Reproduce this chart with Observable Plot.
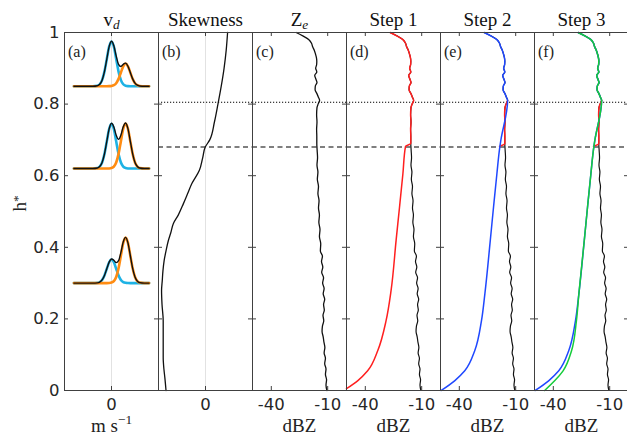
<!DOCTYPE html>
<html><head><meta charset="utf-8">
<script src="https://cdn.jsdelivr.net/npm/d3@7"></script>
<script src="https://cdn.jsdelivr.net/npm/@observablehq/plot@0.6"></script>
<style>
html,body{margin:0;padding:0;background:#fff;overflow:hidden}
#chart{position:relative;width:627px;height:435px;overflow:hidden;background:#fff}
</style></head><body><div id="chart"></div>
<script>
// ---------------- data ----------------
const panelTitles  = ["v_d", "Skewness", "Z_e", "Step 1", "Step 2", "Step 3"];
const panelLetters = ["(a)", "(b)", "(c)", "(d)", "(e)", "(f)"];
const xUnits       = ["m s^-1", "", "dBZ", "dBZ", "dBZ", "dBZ"];
const hTicks    = [0, 0.2, 0.4, 0.6, 0.8, 1];
const vdTicks   = [0];
const skewTicks = [0];
const dbzTicks  = [-40, -10];
const meltTop = 0.805;      // dotted line
const meltBottom = 0.68;    // dashed line

// (a) Doppler spectra: two modes at three heights
const vdSpeed   = [-4, -2, -1.5, -1.25, -1, -0.75, -0.5, -0.25, 0, 0.25, 0.5, 0.75, 1, 1.25, 1.5, 1.75, 2, 2.25, 2.5, 2.75, 3, 3.5, 4];
const slowShape = [0, 0, 0.011, 0.044, 0.135, 0.325, 0.607, 0.883, 1, 0.883, 0.607, 0.325, 0.135, 0.044, 0.011, 0.002, 0, 0, 0, 0, 0, 0, 0];
const fastShape = [0, 0, 0, 0, 0, 0, 0, 0.002, 0.011, 0.044, 0.135, 0.325, 0.607, 0.883, 1, 0.883, 0.607, 0.325, 0.135, 0.044, 0.011, 0, 0];
const vdBase  = [0.85, 0.62, 0.30];
const ampSlow = [0.125, 0.125, 0.066];
const ampFast = [0.063, 0.126, 0.127];

// (b) skewness profile
const skewH = [1.0, 0.95, 0.90, 0.85, 0.80, 0.75, 0.70, 0.68, 0.65, 0.615, 0.578, 0.55, 0.522, 0.49, 0.466, 0.44, 0.419, 0.39, 0.363, 0.335, 0.307, 0.279, 0.24, 0.195, 0.14, 0.092, 0.06, 0.036, 0.0];
const skewV = [0.94, 0.88, 0.79, 0.67, 0.53, 0.38, 0.18, -0.01, -0.12, -0.26, -0.58, -0.76, -0.94, -1.16, -1.37, -1.48, -1.58, -1.68, -1.76, -1.81, -1.84, -1.87, -1.85, -1.80, -1.80, -1.80, -1.77, -1.73, -1.68];

// (c) observed reflectivity profile
const zeH = [1.0, 0.99, 0.98, 0.97, 0.96, 0.95, 0.94, 0.93, 0.92, 0.91, 0.90, 0.89, 0.88, 0.87, 0.86, 0.85, 0.84, 0.83, 0.82, 0.81, 0.80, 0.79, 0.77, 0.75, 0.73, 0.71, 0.69, 0.67, 0.65, 0.63, 0.61, 0.59, 0.57, 0.55, 0.53, 0.51, 0.49, 0.47, 0.45, 0.43, 0.41, 0.39, 0.375, 0.36, 0.345, 0.33, 0.315, 0.30, 0.285, 0.27, 0.255, 0.24, 0.225, 0.21, 0.195, 0.18, 0.165, 0.15, 0.135, 0.12, 0.105, 0.09, 0.075, 0.06, 0.045, 0.03, 0.015, 0.0];
const zeV = [-26.8, -23.0, -20.0, -18.6, -18.0, -17.1, -16.5, -16.0, -15.8, -15.9, -16.4, -15.8, -16.9, -16.3, -15.7, -16.6, -16.7, -15.8, -15.0, -14.3, -15.1, -15.7, -15.9, -15.7, -15.9, -15.8, -15.8, -15.6, -15.4, -15.7, -15.2, -15.5, -14.9, -15.2, -14.6, -14.9, -14.4, -14.7, -14.1, -14.4, -13.7, -13.9, -12.8, -13.3, -12.6, -13.2, -12.2, -12.7, -11.9, -12.4, -11.6, -12.2, -11.8, -12.5, -12.1, -12.8, -13.0, -12.4, -12.0, -11.5, -11.9, -11.2, -11.6, -10.9, -11.2, -10.6, -10.9, -10.4];

// (d) step 1, below the melting-layer bottom
const step1H = [0.682, 0.6055, 0.512, 0.42, 0.279, 0.195, 0.111, 0.055, 0.027, 0.005];
const step1V = [-18.6, -20.0, -21.8, -23.6, -26.3, -28.95, -33.4, -38.75, -44.1, -50.0];
// (e,f) steps 2 and 3, below the melting-layer top
const step23H = [0.699, 0.682, 0.6055, 0.512, 0.42, 0.27];
const step23V = [-17.9, -18.4, -20.0, -21.8, -23.5, -26.4];
const stepBottomH = [0.195, 0.111, 0.055, 0.027, 0.0];
const step2BottomV = [-28.2, -31.8, -37.1, -42.5, -49.6];
const step3BottomV = [-27.7, -30.3, -34.8, -39.3, -44.6];

// ---------------- build tables ----------------
const pts = (H, V) => H.map((h, i) => ({h, v: V[i]}));
const byH = a => d3.sort(a, d => d.h);
const ze = pts(zeH, zeV);
const step1 = byH([...ze.filter(d => d.h >= 0.69), ...pts(step1H, step1V)]);
const step1Mid = step1.filter(d => d.h >= 0.68 && d.h <= 0.81);
const step2 = byH([...ze.filter(d => d.h >= 0.81), ...pts(step23H, step23V), ...pts(stepBottomH, step2BottomV)]);
const step3 = byH([...ze.filter(d => d.h >= 0.81), ...pts(step23H, step23V), ...pts(stepBottomH, step3BottomV)]);
const zeS = byH(ze);
const skew = byH(pts(skewH, skewV));
const vdRows = [];
vdBase.forEach((b, p) => vdSpeed.forEach((v, j) => {
  const s = ampSlow[p] * slowShape[j], f = ampFast[p] * fastShape[j];
  vdRows.push({p, v, slow: b + s, fast: b + f, sum: b + s + f});
}));

// ---------------- drawing ----------------
const W = 640, H = 435, TOP = 32, BOT = 390, PW = 94;
const lefts = [64, 158, 252, 346, 440, 534];
const SERIF = "'Liberation Serif', 'DejaVu Serif', serif";
const SANS = "'DejaVu Sans', sans-serif";
const AX = "#404040";
const CYAN = "#1eb2e4", ORANGE = "#ff8c12", RED = "#ff1f1f", BLUE = "#1f48ff", GREEN = "#14cc3a", BLACK = "#111";

function profile(data, stroke, w = 1.5) {
  return Plot.line(data, {x: "v", y: "h", stroke, strokeWidth: w, curve: "monotone-y"});
}
function meltLines() {
  return [
    Plot.ruleY([meltTop], {stroke: "#000", strokeWidth: 1.1, strokeDasharray: "1.2,1.8"}),
    Plot.ruleY([meltBottom], {stroke: "#000", strokeWidth: 1.1, strokeDasharray: "5,3.5"})
  ];
}

function panel(i, o) {
  const left = lefts[i], ph = BOT - TOP;
  const marks = [
    ...o.marks,
    Plot.frame({stroke: AX}),
    Plot.tickY(hTicks, {y: d => d, insetRight: PW - 4, stroke: AX}),
    Plot.tickY(hTicks, {y: d => d, insetLeft: PW - 4, stroke: AX}),
    Plot.tickX(o.xTicks, {x: d => d, insetBottom: ph - 4, stroke: AX}),
    Plot.tickX(o.xTicks, {x: d => d, insetTop: ph - 4, stroke: AX}),
    Plot.axisX({ticks: o.xTicks, anchor: "bottom", tickSize: 0, tickPadding: 8, tickFormat: d => String(d), label: null, fontSize: 16.5}),
    Plot.text([panelTitles[i]], {text: d => d, frameAnchor: "top", dy: -7, lineAnchor: "bottom", fontFamily: SERIF, fontSize: 19, fill: "#111"}),
    Plot.text([panelLetters[i]], {text: d => d, frameAnchor: "top-left", textAnchor: "start", dx: 3.5, dy: 13, lineAnchor: "top", fontFamily: SERIF, fontSize: 16, fill: "#222"})
  ];
  if (xUnits[i]) marks.push(Plot.text([xUnits[i]], {text: d => d, frameAnchor: "bottom", dy: 41, lineAnchor: "bottom", fontFamily: SERIF, fontSize: 19, fill: "#222"}));
  if (i === 0) {
    marks.push(Plot.axisY({ticks: hTicks, anchor: "left", tickSize: 0, tickPadding: 5, tickFormat: d => String(d), label: null, fontSize: 16.5}));
    marks.push(Plot.text(["h^*"], {text: d => d, frameAnchor: "left", dx: -39, rotate: -90, lineAnchor: "bottom", fontFamily: SERIF, fontSize: 19, fill: "#222"}));
  }
  const svg = Plot.plot({
    width: W, height: H,
    marginTop: TOP, marginBottom: H - BOT, marginLeft: left, marginRight: W - left - PW,
    x: {domain: o.xDomain},
    y: {domain: [0, 1], axis: i === 0 ? undefined : null},
    style: {background: "transparent", color: "#262626", fontFamily: SANS, fontSize: "16.5px",
            position: "absolute", left: "0px", top: "0px", maxWidth: "none", overflow: "visible"},
    marks
  });
  rich(svg);
  document.getElementById("chart").appendChild(svg);
}

function rich(svg) {
  const ns = "http://www.w3.org/2000/svg";
  const map = {"v_d": ["v", "d", "sub"], "Z_e": ["Z", "e", "sub"], "h^*": ["h", "*", "sup"], "m s^-1": ["m s", "\u22121", "sup2"]};
  svg.querySelectorAll("text").forEach(t => {
    const m = map[t.textContent];
    if (!m) return;
    t.textContent = "";
    const a = document.createElementNS(ns, "tspan"); a.textContent = m[0]; t.appendChild(a);
    const b = document.createElementNS(ns, "tspan"); b.textContent = m[1];
    b.setAttribute("font-size", "0.7em");
    if (m[2] === "sub") { b.setAttribute("dy", "0.28em"); b.setAttribute("font-style", "italic"); }
    else if (m[2] === "sup") b.setAttribute("dy", "-0.3em");
    else b.setAttribute("dy", "-0.6em");
    t.appendChild(b);
  });
}

// (a)
panel(0, {xDomain: [-5, 5], xTicks: vdTicks, marks: [
  Plot.ruleX([0], {stroke: "#e2e2e2"}),
  Plot.line(vdRows, {x: "v", y: "slow", z: "p", stroke: CYAN, strokeWidth: 2.6, curve: "monotone-x"}),
  Plot.line(vdRows, {x: "v", y: "fast", z: "p", stroke: ORANGE, strokeWidth: 2.6, curve: "monotone-x"}),
  Plot.line(vdRows, {x: "v", y: "sum", z: "p", stroke: BLACK, strokeWidth: 1.4, curve: "monotone-x"})
]});
// (b)
panel(1, {xDomain: [-2, 2], xTicks: skewTicks, marks: [
  Plot.ruleX([0], {stroke: "#e2e2e2"}),
  ...meltLines(),
  profile(skew, BLACK, 1.3)
]});
// (c)
panel(2, {xDomain: [-50, 0], xTicks: dbzTicks, marks: [...meltLines(), profile(zeS, BLACK, 1.3)]});
// (d)
panel(3, {xDomain: [-50, 0], xTicks: dbzTicks, marks: [...meltLines(), profile(zeS, BLACK, 1.2), profile(step1, RED)]});
// (e)
panel(4, {xDomain: [-50, 0], xTicks: dbzTicks, marks: [...meltLines(), profile(zeS, BLACK, 1.2), profile(step1Mid, RED), profile(step2, BLUE)]});
// (f)
panel(5, {xDomain: [-50, 0], xTicks: dbzTicks, marks: [...meltLines(), profile(zeS, BLACK, 1.2), profile(step1Mid, RED), profile(step2, BLUE), profile(step3, GREEN)]});
</script></body></html>
